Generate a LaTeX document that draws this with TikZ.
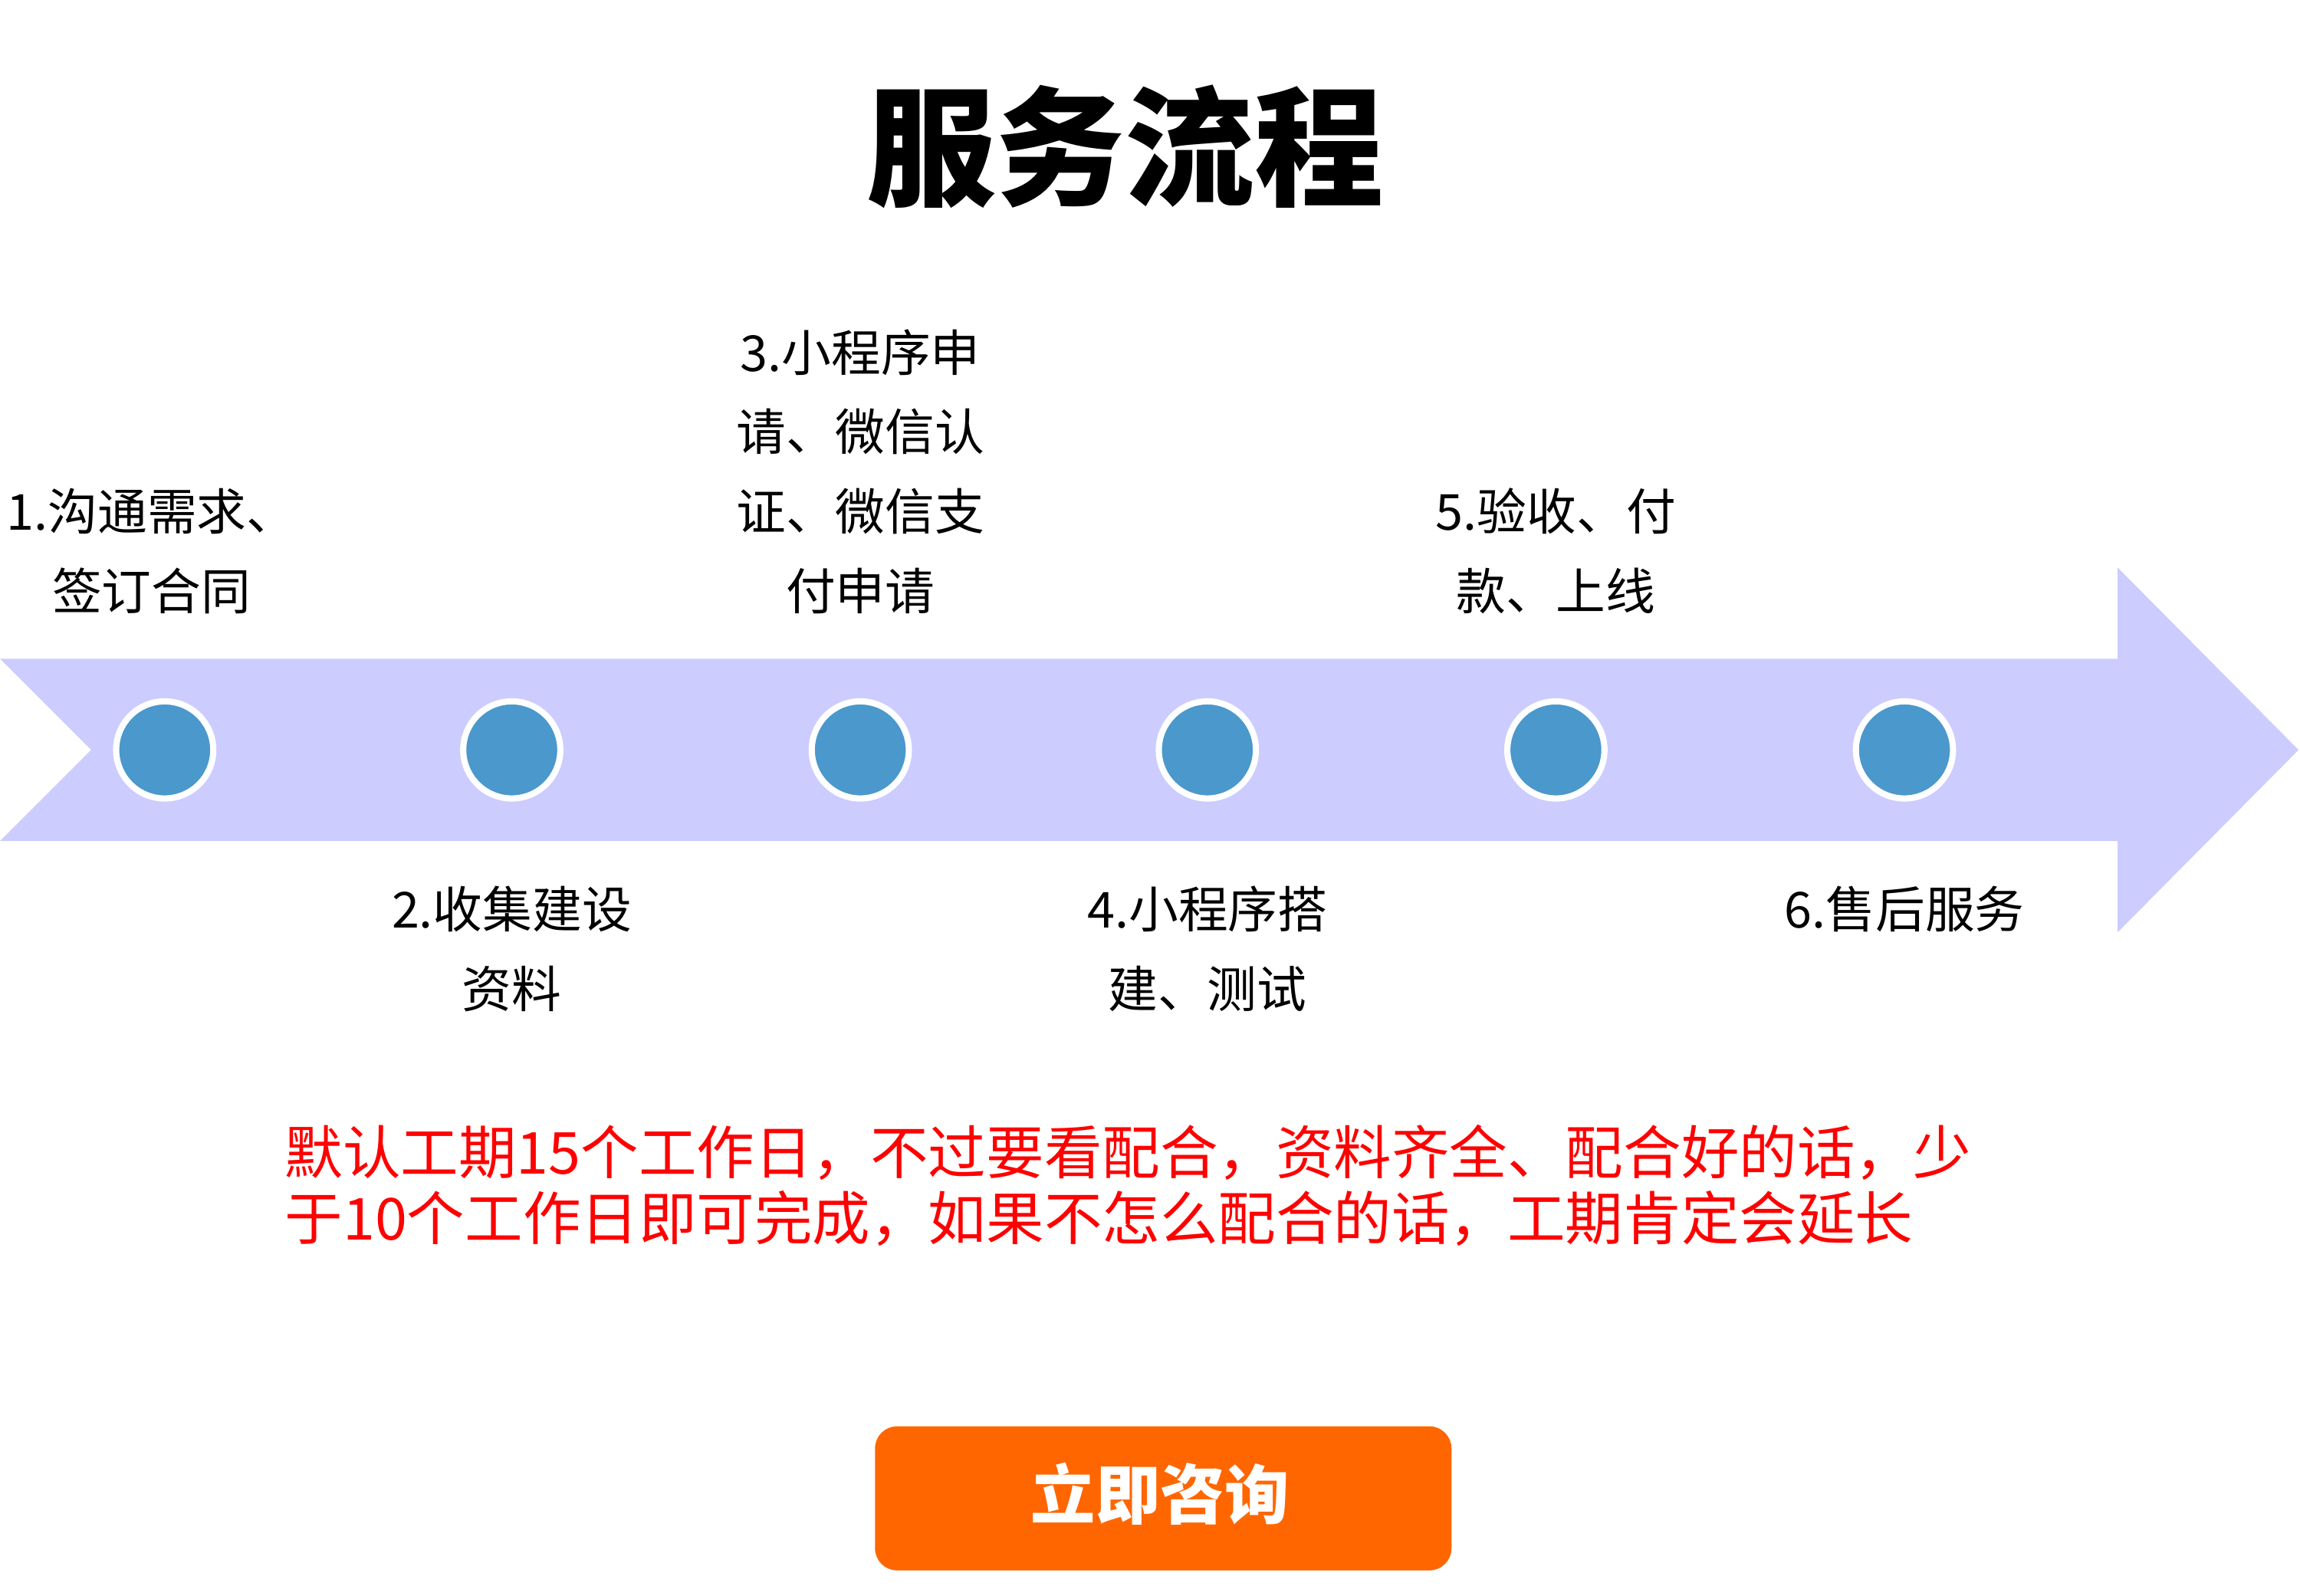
\documentclass[tikz,border=0pt]{standalone}
\usepackage{fontspec}
\setmainfont{Noto Sans CJK SC}
\usepackage{xcolor}
\definecolor{band}{HTML}{CCCCFF}
\definecolor{dot}{HTML}{4A98CC}
\definecolor{btn}{HTML}{FF6600}
\begin{document}
\begin{tikzpicture}[x=0.01cm,y=-0.01cm,
    stepdot/.style={circle, fill=dot, draw=white, line width=1.2pt, minimum size=0.66cm, inner sep=0pt},
    steptext/.style={align=center, font=\fontsize{9.6}{15.4}\selectfont}]
    \useasboundingbox (0,0) rectangle (1564,1085);
    \node[font=\fontsize{25}{30}\selectfont\bfseries] (title) at (765,100) {服务流程};
    \fill[band] (0,448) -- (1440,448) -- (1440,386) -- (1563,510) -- (1440,634)
        -- (1440,572) -- (0,572) -- (62,510) -- cycle;
    \foreach \i/\x in {1/112,2/348,3/585,4/821,5/1058,6/1295} {
        \node[stepdot] (d\i) at (\x,510) {};
    }
    \node[steptext, anchor=south] (t1) at (103,430) {1.沟通需求、\\签订合同};
    \node[steptext, anchor=south] (t3) at (585,430) {3.小程序申\\请、微信认\\证、微信支\\付申请};
    \node[steptext, anchor=south] (t5) at (1058,430) {5.验收、付\\款、上线};
    \node[steptext, anchor=north] (t2) at (348,590) {2.收集建设\\资料};
    \node[steptext, anchor=north] (t4) at (821,590) {4.小程序搭\\建、测试};
    \node[steptext, anchor=north] (t6) at (1295,590) {6.售后服务};
    \node[anchor=north west, text=red, align=left, inner sep=0pt,
        font=\fontsize{11.2}{12.8}\selectfont] (note) at (193,764)
        {默认工期15个工作日，不过要看配合，资料齐全、配合好的话，少\\于10个工作日即可完成，如果不怎么配合的话，工期肯定会延长};
    \fill[btn, rounded corners=0.15cm] (595,970) rectangle (987,1068);
    \node[text=white, font=\fontsize{12.5}{15}\selectfont\bfseries] (ask) at (789,1016) {立即咨询};
\end{tikzpicture}
\end{document}
